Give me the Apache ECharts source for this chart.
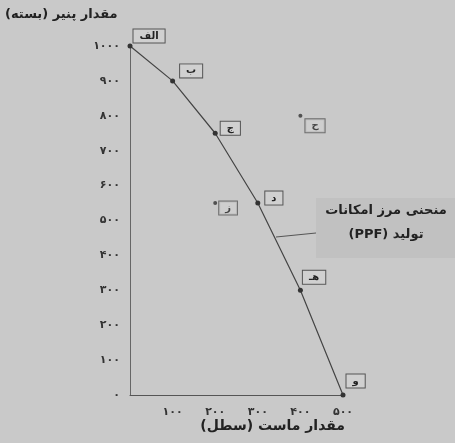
<!DOCTYPE html>
<html>
<head>
<meta charset="utf-8">
<script src="https://cdn.jsdelivr.net/npm/echarts@6/dist/echarts.min.js"></script>
<style>
html,body{margin:0;padding:0;background:#c9c9c9;}
#c{width:455px;height:443px;}
</style>
</head>
<body>
<div id="c"></div>
<script>
// Data
const pointNames = ['الف', 'ب', 'ج', 'د', 'هـ', 'و'];
const yogurt = [0, 100, 200, 300, 400, 500];     // ماست (سطل)
const cheese = [1000, 900, 750, 550, 300, 0];     // پنیر (بسته)
const extraNames = ['ز', 'ح'];
const extraYogurt = [200, 400];
const extraCheese = [550, 800];
const xTicks = [100, 200, 300, 400, 500];
const yTicks = [0, 100, 200, 300, 400, 500, 600, 700, 800, 900, 1000];
const yTitle = 'مقدار پنیر (بسته)';
const xTitle = 'مقدار ماست (سطل)';
const noteLines = ['منحنی مرز امکانات', 'تولید (PPF)'];

const fa = n => String(n).replace(/\d/g, d => '۰۱۲۳۴۵۶۷۸۹'[d]);
const rtl = s => '\u2067' + s + '\u2069';

// label offsets (style only)
const mainOffsets = [[-4, -10], [0, -10], [-2, -5], [0, -5], [-5, -13], [-4, -14]];
const extraOffsets = [[-3, 5], [-2, 10]];

const boxLabel = (off) => ({
  show: true, position: 'right', offset: off,
  formatter: p => rtl(p.data.name),
  color: '#222', fontFamily: 'DejaVu Sans', fontSize: 10, fontWeight: 'bold',
  borderColor: '#555', borderWidth: 1, padding: [2, 6, 1, 6], backgroundColor: '#d0d0d0'
});

const mainData = yogurt.map((x, i) => ({ value: [x, cheese[i]], name: pointNames[i], label: boxLabel(mainOffsets[i]) }));
const extraData = extraYogurt.map((x, i) => ({ value: [x, extraCheese[i]], name: extraNames[i], label: boxLabel(extraOffsets[i]) }));

const chart = echarts.init(document.getElementById('c'));
chart.setOption({
  backgroundColor: '#c9c9c9',
  animation: false,
  grid: { left: 130, right: 112, top: 46, bottom: 48 },
  xAxis: {
    type: 'value', min: 0, max: 500, interval: 100,
    axisLine: { show: true, lineStyle: { color: '#555', width: 1 } },
    axisTick: { show: false }, splitLine: { show: false },
    axisLabel: {
      margin: 12, color: '#333', fontFamily: 'DejaVu Sans', fontSize: 11, fontWeight: 'bold',
      formatter: v => xTicks.includes(v) ? fa(v) : ''
    }
  },
  yAxis: {
    type: 'value', min: 0, max: 1000, interval: 100,
    axisLine: { show: true, lineStyle: { color: '#666', width: 1 } },
    axisTick: { show: false }, splitLine: { show: false },
    axisLabel: {
      margin: 10, color: '#333', fontFamily: 'DejaVu Sans', fontSize: 11, fontWeight: 'bold',
      formatter: v => yTicks.includes(v) ? fa(v) : ''
    }
  },
  series: [
    {
      type: 'line', data: mainData, smooth: false,
      symbol: 'circle', symbolSize: 5,
      lineStyle: { color: '#444', width: 1.2 },
      itemStyle: { color: '#333' }
    },
    {
      type: 'scatter', data: extraData,
      symbol: 'circle', symbolSize: 4,
      itemStyle: { color: '#333' }
    }
  ],
  graphic: [
    { type: 'text', left: 5, top: 8, style: { text: rtl(yTitle), font: 'bold 13px "DejaVu Sans"', fill: '#222' } },
    { type: 'text', right: 110, top: 419, style: { text: rtl(xTitle), font: 'bold 14px "DejaVu Sans"', fill: '#222' } },
    { type: 'rect', shape: { x: 316, y: 198, width: 139, height: 60 }, style: { fill: '#c1c1c1' } },
    { type: 'line', shape: { x1: 276, y1: 237, x2: 316, y2: 233 }, style: { stroke: '#555', lineWidth: 1 } },
    { type: 'text', x: 386, y: 204, style: { text: rtl(noteLines[0]), font: 'bold 13px "DejaVu Sans"', fill: '#222', align: 'center' } },
    { type: 'text', x: 386, y: 228, style: { text: rtl(noteLines[1]), font: 'bold 13px "DejaVu Sans"', fill: '#222', align: 'center' } }
  ]
});
</script>
</body>
</html>
